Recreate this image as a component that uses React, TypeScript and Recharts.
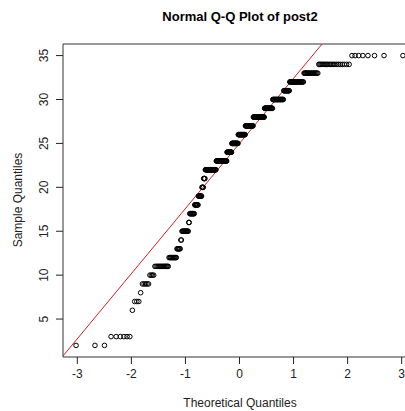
import React from 'react';
import { ScatterChart, Scatter, XAxis, YAxis, ReferenceLine, ReferenceArea } from 'recharts';

// sample values of post2 and how many times each one occurs
const sampleValues = [2, 3, 4, 5, 6, 7, 8, 9, 10, 11, 12, 13, 14, 15, 16, 17, 18, 19, 20, 21, 22, 23, 24, 25, 26, 27, 28, 29, 30, 31, 32, 33, 34, 35];
const valueCounts = [3, 6, 0, 0, 1, 3, 1, 5, 4, 15, 11, 6, 2, 12, 2, 10, 8, 8, 4, 4, 28, 30, 14, 19, 21, 23, 31, 21, 25, 12, 24, 18, 21, 8];

const xTicks = [-3, -2, -1, 0, 1, 2, 3];
const yTicks = [5, 10, 15, 20, 25, 30, 35];

const xDomain = [-3.265, 3.265];
const yDomain = [0.68, 36.32];

const font = '"Liberation Sans", Arial, sans-serif';

// inverse normal cdf (Acklam)
function qnorm(p: number) {
    const a = [-39.69683028665376, 220.9460984245205, -275.9285104469687, 138.357751867269, -30.66479806614716, 2.506628277459239];
    const b = [-54.47609879822406, 161.5858368580409, -155.6989798598866, 66.80131188771972, -13.28068155288572];
    const c = [-0.007784894002430293, -0.3223964580411365, -2.400758277161838, -2.549732539343734, 4.374664141464968, 2.938163982698783];
    const d = [0.007784695709041462, 0.3224671290700398, 2.445134137142996, 3.754408661907416];
    const pl = 0.02425;
    if (p < pl) {
        const q = Math.sqrt(-2 * Math.log(p));
        return (((((c[0] * q + c[1]) * q + c[2]) * q + c[3]) * q + c[4]) * q + c[5]) / ((((d[0] * q + d[1]) * q + d[2]) * q + d[3]) * q + 1);
    }
    if (p > 1 - pl) {
        const q = Math.sqrt(-2 * Math.log(1 - p));
        return -(((((c[0] * q + c[1]) * q + c[2]) * q + c[3]) * q + c[4]) * q + c[5]) / ((((d[0] * q + d[1]) * q + d[2]) * q + d[3]) * q + 1);
    }
    const q = p - 0.5;
    const r = q * q;
    return (((((a[0] * r + a[1]) * r + a[2]) * r + a[3]) * r + a[4]) * r + a[5]) * q / (((((b[0] * r + b[1]) * r + b[2]) * r + b[3]) * r + b[4]) * r + 1);
}

// sorted sample
const sample: number[] = [];
sampleValues.forEach((v, i) => {
    for (let k = 0; k < valueCounts[i]; k++) sample.push(v);
});
const n = sample.length;

// qqnorm: theoretical quantile vs sorted sample
const points = sample.map((y, i) => ({ x: qnorm((i + 0.5) / n), y }));

// qqline through the quartiles
const quantile = (p: number) => {
    const h = (n - 1) * p;
    const lo = Math.floor(h);
    return sample[lo] + (h - lo) * (sample[Math.min(lo + 1, n - 1)] - sample[lo]);
};
const q1 = quantile(0.25);
const q3 = quantile(0.75);
const slope = (q3 - q1) / (qnorm(0.75) - qnorm(0.25));
const intercept = q1 - slope * qnorm(0.25);

const Dot = (props: any) => (
    <circle cx={props.cx} cy={props.cy} r={2.3} fill="none" stroke="#000" strokeWidth={1} />
);

const YTick = (props: any) => {
    const { y, payload } = props;
    return (
        <text x={44} y={y} dy="0.35em" transform={`rotate(-90, 44, ${y})`} textAnchor="middle" fontSize={12} fill="#222" fontFamily={font}>
            {payload.value}
        </text>
    );
};

export default function App() {
    return (
        <div style={{ position: 'fixed', left: 0, top: 0, width: 405, height: 411, overflow: 'hidden', background: '#fff' }}>
            <div style={{ position: 'absolute', left: 0, width: 480, top: 9, textAlign: 'center', fontFamily: font, fontWeight: 'bold', fontSize: 13 }}>
                Normal Q-Q Plot of post2
            </div>
            <div style={{ position: 'absolute', left: 0, width: 480, top: 396, textAlign: 'center', fontFamily: font, fontSize: 12, color: '#222' }}>
                Theoretical Quantiles
            </div>
            <div style={{ position: 'absolute', left: 18, top: 200, transform: 'translate(-50%, -50%) rotate(-90deg)', whiteSpace: 'nowrap', fontFamily: font, fontSize: 12, color: '#222' }}>
                Sample Quantiles
            </div>
            <ScatterChart width={440} height={411} margin={{ top: 44, right: 24, bottom: 0, left: 0 }}>
                <XAxis
                    type="number"
                    dataKey="x"
                    domain={xDomain}
                    ticks={xTicks}
                    height={54}
                    axisLine={false}
                    tickSize={7}
                    tickMargin={5}
                    tickLine={{ stroke: '#222' }}
                    tick={{ fontSize: 12, fill: '#222', fontFamily: font }}
                    allowDataOverflow
                />
                <YAxis
                    type="number"
                    dataKey="y"
                    domain={yDomain}
                    ticks={yTicks}
                    width={63}
                    axisLine={false}
                    tickSize={7}
                    tickLine={{ stroke: '#222' }}
                    tick={<YTick />}
                    allowDataOverflow
                />
                <ReferenceArea x1={xDomain[0]} x2={xDomain[1]} y1={yDomain[0]} y2={yDomain[1]} fill="none" stroke="#333" strokeWidth={1} />
                <Scatter data={points} shape={<Dot />} isAnimationActive={false} />
                <ReferenceLine
                    segment={[
                        { x: xDomain[0], y: intercept + slope * xDomain[0] },
                        { x: xDomain[1], y: intercept + slope * xDomain[1] },
                    ]}
                    stroke="#cc2222"
                    strokeWidth={1}
                    ifOverflow="hidden"
                />
            </ScatterChart>
        </div>
    );
}
